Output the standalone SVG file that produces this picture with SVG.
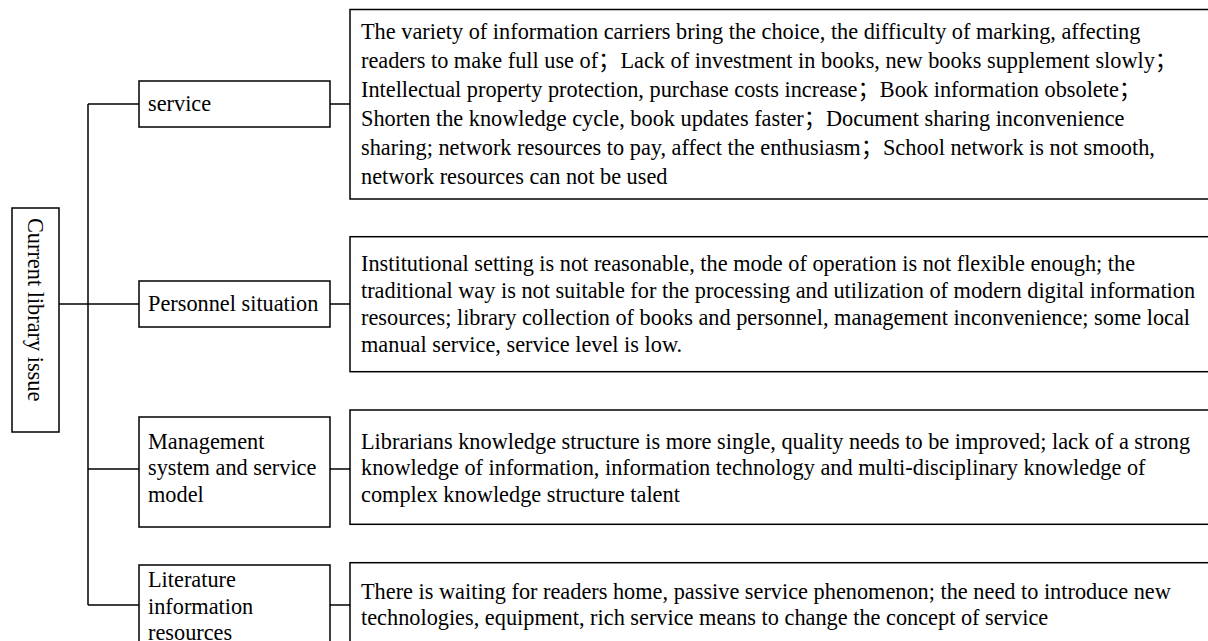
<svg xmlns="http://www.w3.org/2000/svg" width="1208" height="641" viewBox="0 0 1208 641">
  <style>
    .box { fill: #ffffff; stroke: #000000; stroke-width: 1.5; }
    .link { fill: none; stroke: #000000; stroke-width: 1.5; }
    text { font-family: "Liberation Serif", "Times New Roman", "Noto Sans CJK SC", serif; font-size: 22.3px; fill: #000000; }
  </style>
  <rect x="0" y="0" width="1208" height="641" fill="#ffffff"/>

  <!-- connectors: trunk, branches and box-to-detail ties -->
  <g id="connectors">
    <path class="link" d="M59 304 H88"/>
    <path class="link" d="M88 104 V605"/>
    <path class="link" d="M88 104 H139"/>
    <path class="link" d="M88 304 H139"/>
    <path class="link" d="M88 469 H139"/>
    <path class="link" d="M88 605 H139"/>
    <path class="link" d="M330 104 H350"/>
    <path class="link" d="M330 304 H350"/>
    <path class="link" d="M330 469 H350"/>
    <path class="link" d="M330 605 H350"/>
  </g>

  <!-- root -->
  <g id="root">
    <rect class="box" x="12" y="208" width="47" height="224"/>
    <text transform="translate(28 218) rotate(90)">Current library issue</text>
  </g>

  <!-- categories -->
  <g id="cat-service">
    <rect class="box" x="139" y="81" width="191" height="46"/>
    <text x="148" y="111">service</text>
  </g>
  <g id="cat-personnel">
    <rect class="box" x="139" y="281" width="191" height="46"/>
    <text x="148" y="311">Personnel situation</text>
  </g>
  <g id="cat-management">
    <rect class="box" x="139" y="417" width="191" height="110"/>
    <text x="148" y="448.7">Management</text>
    <text x="148" y="475.3">system and service</text>
    <text x="148" y="502">model</text>
  </g>
  <g id="cat-literature">
    <rect class="box" x="139" y="565" width="191" height="90"/>
    <text x="148" y="587">Literature</text>
    <text x="148" y="613.7">information</text>
    <text x="148" y="640">resources</text>
  </g>

  <!-- details -->
  <g id="detail-service">
    <rect class="box" x="350" y="9.5" width="880" height="189.5"/>
    <text x="361" y="38.7">The variety of information carriers bring the choice, the difficulty of marking, affecting</text>
    <text x="361" y="68">readers to make full use of；Lack of investment in books, new books supplement slowly；</text>
    <text x="361" y="97">Intellectual property protection, purchase costs increase；Book information obsolete；</text>
    <text x="361" y="126">Shorten the knowledge cycle, book updates faster；Document sharing inconvenience</text>
    <text x="361" y="155">sharing; network resources to pay, affect the enthusiasm；School network is not smooth,</text>
    <text x="361" y="184">network resources can not be used</text>
  </g>
  <g id="detail-personnel">
    <rect class="box" x="350" y="236.7" width="880" height="135"/>
    <text x="361" y="270.5">Institutional setting is not reasonable, the mode of operation is not flexible enough; the</text>
    <text x="361" y="297.5">traditional way is not suitable for the processing and utilization of modern digital information</text>
    <text x="361" y="324.5">resources; library collection of books and personnel, management inconvenience; some local</text>
    <text x="361" y="351.5">manual service, service level is low.</text>
  </g>
  <g id="detail-management">
    <rect class="box" x="350" y="410" width="880" height="114.3"/>
    <text x="361" y="448.7">Librarians knowledge structure is more single, quality needs to be improved; lack of a strong</text>
    <text x="361" y="475.3">knowledge of information, information technology and multi-disciplinary knowledge of</text>
    <text x="361" y="502">complex knowledge structure talent</text>
  </g>
  <g id="detail-literature">
    <rect class="box" x="350" y="562.7" width="880" height="100"/>
    <text x="361" y="598.7">There is waiting for readers home, passive service phenomenon; the need to introduce new</text>
    <text x="361" y="625.3">technologies, equipment, rich service means to change the concept of service</text>
  </g>
</svg>
